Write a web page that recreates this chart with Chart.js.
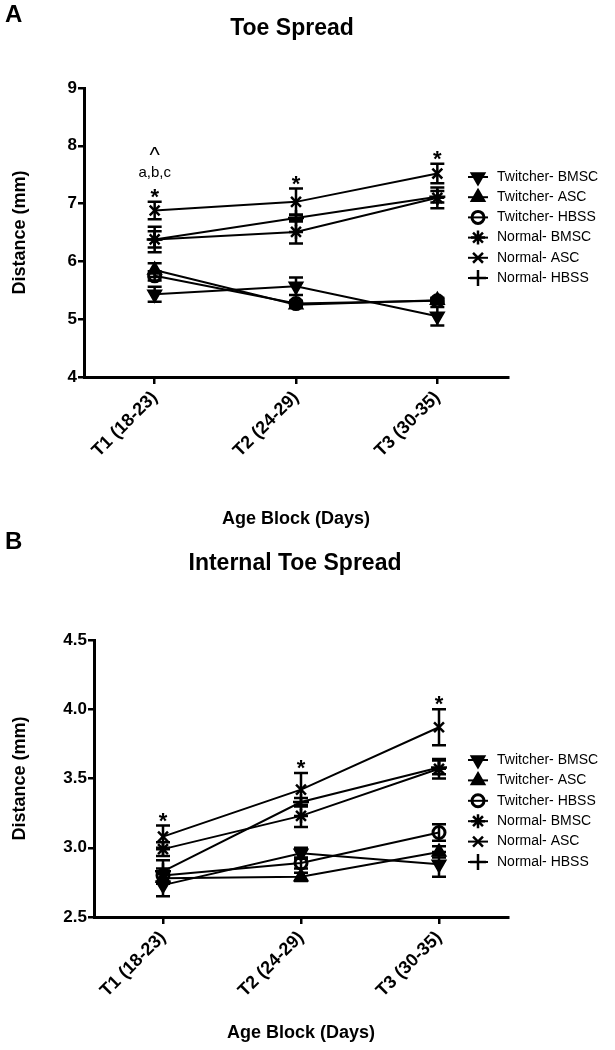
<!DOCTYPE html>
<html>
<head>
<meta charset="utf-8">
<script src="https://cdn.jsdelivr.net/npm/chart.js@4.4.0/dist/chart.umd.min.js"></script>
<style>
body { margin: 0; background: #fff; }
#wrapA { position: absolute; left: 0; top: 0; }
#wrapB { position: absolute; left: 0; top: 532px; }
</style>
</head>
<body>
<div id="wrapA"><canvas id="toe-spread" width="615" height="532"></canvas></div>
<div id="wrapB"><canvas id="internal-toe-spread" width="615" height="518"></canvas></div>
<script>
// categories and groups
var ageBlocks = ['T1 (18-23)', 'T2 (24-29)', 'T3 (30-35)'];
var groups = ['Twitcher- BMSC', 'Twitcher- ASC', 'Twitcher- HBSS', 'Normal- BMSC', 'Normal- ASC', 'Normal- HBSS'];

// A: toe spread (mm), means and SEM
var twBmscA = [5.43, 5.57, 5.05];
var twAscA = [5.85, 5.25, 5.33];
var twHbssA = [5.75, 5.27, 5.32];
var nBmscA = [6.38, 6.51, 7.10];
var nAscA = [6.88, 7.03, 7.52];
var nHbssA = [6.38, 6.75, 7.12];
var semTwBmscA = [0.13, 0.15, 0.16];
var semTwAscA = [0.12, 0.04, 0.04];
var semTwHbssA = [0.08, 0.05, 0.04];
var semNBmscA = [0.22, 0.20, 0.18];
var semNAscA = [0.15, 0.23, 0.17];
var semNHbssA = [0.14, 0.06, 0.10];
var yTicksA = [4, 9, 1];

// B: internal toe spread (mm), means and SEM
var twBmscB = [2.73, 2.96, 2.88];
var twAscB = [2.78, 2.79, 2.97];
var twHbssB = [2.80, 2.89, 3.11];
var nBmscB = [2.99, 3.23, 3.57];
var nAscB = [3.08, 3.42, 3.87];
var nHbssB = [2.83, 3.33, 3.58];
var semTwBmscB = [0.08, 0.04, 0.09];
var semTwAscB = [0.04, 0.03, 0.04];
var semTwHbssB = [0.05, 0.04, 0.06];
var semNBmscB = [0.05, 0.08, 0.07];
var semNAscB = [0.08, 0.12, 0.13];
var semNHbssB = [0.08, 0.03, 0.05];
var yTicksB = [2.5, 4.5, 0.5];

// significance marks per age block
var starsA = ['*', '*', '*'];
var notesA = ['a,b,c', '', ''];
var caretsA = ['^', '', ''];
var starsB = ['*', '*', '*'];

var FONT = '"Liberation Sans", Arial, sans-serif';
Chart.defaults.font.family = FONT;
Chart.defaults.color = '#000';

var markerStyles = [
    { pointStyle: 'triangle', rotation: 180, radius: 7, fill: true },
    { pointStyle: 'triangle', rotation: 0, radius: 7, fill: true },
    { pointStyle: 'circle', rotation: 0, radius: 6, fill: false },
    { pointStyle: 'star', rotation: 0, radius: 7, fill: false },
    { pointStyle: 'crossRot', rotation: 0, radius: 7, fill: false },
    { pointStyle: 'cross', rotation: 0, radius: 8, fill: false }
];

function makeDatasets(series, sems) {
    return series.map(function (values, i) {
        var m = markerStyles[i];
        return {
            label: groups[i],
            data: values,
            errors: sems[i],
            borderColor: '#000',
            borderWidth: 2,
            tension: 0,
            fill: false,
            pointStyle: m.pointStyle,
            rotation: m.rotation,
            pointRadius: m.radius,
            pointHoverRadius: m.radius,
            pointBorderWidth: m.pointStyle === 'circle' ? 3 : 2.5,
            pointBorderColor: '#000',
            pointBackgroundColor: m.fill ? '#000' : 'rgba(0,0,0,0)'
        };
    });
}

var figurePlugin = {
    id: 'figure',
    beforeDatasetsDraw: function (chart) {
        var ctx = chart.ctx;
        var y = chart.scales.y;
        ctx.save();
        ctx.strokeStyle = '#000';
        ctx.lineWidth = 2.5;
        chart.data.datasets.forEach(function (ds, d) {
            var meta = chart.getDatasetMeta(d);
            ds.errors.forEach(function (e, i) {
                var x = meta.data[i].x;
                var top = y.getPixelForValue(ds.data[i] + e);
                var bot = y.getPixelForValue(ds.data[i] - e);
                ctx.beginPath();
                ctx.moveTo(x, top); ctx.lineTo(x, bot);
                ctx.moveTo(x - 7, top); ctx.lineTo(x + 7, top);
                ctx.moveTo(x - 7, bot); ctx.lineTo(x + 7, bot);
                ctx.stroke();
            });
        });
        ctx.restore();
    },
    afterDraw: function (chart, args, opts) {
        var ctx = chart.ctx;
        var y = chart.scales.y;
        var x = chart.scales.x;
        ctx.save();
        ctx.fillStyle = '#000';
        ctx.textBaseline = 'middle';

        // panel letter and title
        ctx.font = 'bold 24px ' + FONT;
        ctx.textAlign = 'left';
        ctx.fillText(opts.letter, 5, opts.letterY);
        ctx.font = 'bold 23px ' + FONT;
        ctx.textAlign = 'center';
        ctx.fillText(opts.title, opts.titleX, opts.titleY);

        // significance marks above the highest error bar
        ctx.textBaseline = 'alphabetic';
        ageBlocks.forEach(function (lab, i) {
            var top = Infinity;
            chart.data.datasets.forEach(function (ds) {
                top = Math.min(top, y.getPixelForValue(ds.data[i] + ds.errors[i]));
            });
            var cx = x.getPixelForValue(i);
            ctx.font = 'bold 22px ' + FONT;
            if (opts.stars[i]) ctx.fillText(opts.stars[i], cx, top + 2);
            if (opts.notes && opts.notes[i]) {
                ctx.font = '15px ' + FONT;
                ctx.fillText(opts.notes[i], cx, top - 25);
            }
            if (opts.carets && opts.carets[i]) {
                ctx.font = '22px ' + FONT;
                ctx.fillText(opts.carets[i], cx, top - 40);
            }
        });

        // legend
        ctx.textAlign = 'left';
        ctx.textBaseline = 'middle';
        ctx.font = '14px ' + FONT;
        chart.data.datasets.forEach(function (ds, d) {
            var ly = opts.legendY + d * opts.legendGap;
            var lx = opts.legendX;
            ctx.strokeStyle = '#000';
            ctx.lineWidth = 2;
            ctx.beginPath();
            ctx.moveTo(lx - 10, ly); ctx.lineTo(lx + 10, ly);
            ctx.stroke();
            ctx.lineWidth = ds.pointBorderWidth;
            ctx.fillStyle = ds.pointBackgroundColor;
            Chart.helpers.drawPoint(ctx, {
                pointStyle: ds.pointStyle,
                rotation: ds.rotation,
                radius: ds.pointRadius,
                borderWidth: ds.pointBorderWidth
            }, lx, ly);
            ctx.fillStyle = '#000';
            ctx.fillText(ds.label, lx + 19, ly);
        });
        ctx.restore();
    }
};

function axisOptions(yTicks, yWidth, xHeight, decimals) {
    return {
        x: {
            type: 'category',
            offset: true,
            afterFit: function (scale) { scale.height = xHeight; },
            grid: { display: true, drawOnChartArea: false, drawTicks: true, tickLength: 7, color: '#000', lineWidth: 2.5 },
            border: { display: true, color: '#000', width: 3 },
            ticks: { autoSkip: false, minRotation: 45, maxRotation: 45, padding: 3, font: { size: 18, weight: 'bold' } },
            title: { display: true, text: 'Age Block (Days)', font: { size: 18, weight: 'bold' }, padding: { top: 0, bottom: 2 } }
        },
        y: {
            min: yTicks[0],
            max: yTicks[1],
            afterFit: function (scale) { scale.width = yWidth; },
            grid: { display: true, drawOnChartArea: false, drawTicks: true, tickLength: 6, color: '#000', lineWidth: 2.5 },
            border: { display: true, color: '#000', width: 3 },
            ticks: {
                stepSize: yTicks[2],
                padding: 1,
                font: { size: 17, weight: 'bold' },
                callback: function (v) { return v.toFixed(decimals); }
            },
            title: { display: true, text: 'Distance (mm)', font: { size: 18, weight: 'bold' }, padding: { top: 9, bottom: 6 } }
        }
    };
}

window.addEventListener('load', function () {
    var toeCtx = document.getElementById('toe-spread').getContext('2d');
    var internalCtx = document.getElementById('internal-toe-spread').getContext('2d');

    var toeChart = new Chart(toeCtx, {
        type: 'line',
        data: {
            labels: ageBlocks,
            datasets: makeDatasets(
                [twBmscA, twAscA, twHbssA, nBmscA, nAscA, nHbssA],
                [semTwBmscA, semTwAscA, semTwHbssA, semNBmscA, semNAscA, semNHbssA])
        },
        options: {
            responsive: false,
            animation: false,
            layout: { padding: { top: 88, right: 107, left: 0, bottom: 0 } },
            scales: axisOptions(yTicksA, 84, 155, 0),
            plugins: {
                legend: { display: false },
                tooltip: { enabled: false },
                figure: {
                    letter: 'A', letterY: 15, title: 'Toe Spread', titleX: 292, titleY: 29,
                    stars: starsA, notes: notesA, carets: caretsA,
                    legendX: 478, legendY: 177, legendGap: 20.2
                }
            }
        },
        plugins: [figurePlugin]
    });

    var internalChart = new Chart(internalCtx, {
        type: 'line',
        data: {
            labels: ageBlocks,
            datasets: makeDatasets(
                [twBmscB, twAscB, twHbssB, nBmscB, nAscB, nHbssB],
                [semTwBmscB, semTwAscB, semTwHbssB, semNBmscB, semNAscB, semNHbssB])
        },
        options: {
            responsive: false,
            animation: false,
            layout: { padding: { top: 108, right: 107, left: 0, bottom: 4 } },
            scales: axisOptions(yTicksB, 94, 129, 1),
            plugins: {
                legend: { display: false },
                tooltip: { enabled: false },
                figure: {
                    letter: 'B', letterY: 10, title: 'Internal Toe Spread', titleX: 295, titleY: 32,
                    stars: starsB,
                    legendX: 478, legendY: 228, legendGap: 20.4
                }
            }
        },
        plugins: [figurePlugin]
    });
});
</script>
</body>
</html>
